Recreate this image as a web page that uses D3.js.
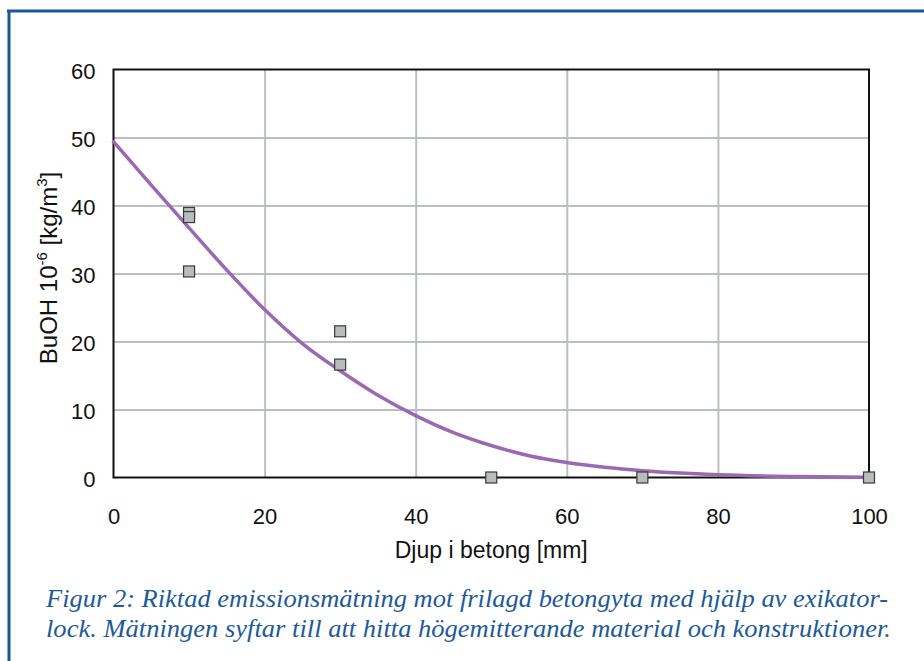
<!DOCTYPE html>
<html>
<head>
<meta charset="utf-8">
<script src="https://cdn.jsdelivr.net/npm/d3@7"></script>
<style>
  body { margin: 0; background: #fff; }
  .tick text { font-family: "Liberation Sans", Arial, sans-serif; font-size: 22px; fill: #111; }
  .grid line { stroke: #b9bfc3; stroke-width: 2px; }
  .grid .domain { display: none; }
</style>
</head>
<body>
<div id="chart"></div>
<script>
// measured samples
var depthX = [10, 10, 10, 30, 30, 50, 70, 100];
var buohY = [38.9, 38.3, 30.3, 21.5, 16.6, 0, 0, 0];

// fitted curve
var curveX = [0, 5, 10, 15, 20, 25, 30, 35, 40, 45, 50, 55, 60, 65, 70, 75, 80, 90, 100];
var curveY = [49.4, 43.0, 36.7, 30.5, 24.7, 19.7, 15.7, 12.1, 9.1, 6.6, 4.7, 3.2, 2.2, 1.5, 1.0, 0.65, 0.4, 0.15, 0.05];

var xTicks = [0, 20, 40, 60, 80, 100];
var yTicks = [0, 10, 20, 30, 40, 50, 60];

var captionLines = [
    "Figur 2: Riktad emissionsmätning mot frilagd betongyta med hjälp av exikator-",
    "lock. Mätningen syftar till att hitta högemitterande material och konstruktioner."
];

var W = 924, H = 661;
var plot = {left: 113.5, right: 869, top: 69.5, bottom: 477.5};

var svg = d3.select("#chart").append("svg")
    .attr("width", W)
    .attr("height", H);

// blue frame (top and left)
svg.append("line")
    .attr("x1", 7).attr("x2", W).attr("y1", 11).attr("y2", 11)
    .attr("stroke", "#1b5797").attr("stroke-width", 3);
svg.append("line")
    .attr("x1", 9).attr("x2", 9).attr("y1", 10).attr("y2", H)
    .attr("stroke", "#1b5797").attr("stroke-width", 3);

var x = d3.scaleLinear().domain([0, 100]).range([plot.left, plot.right]);
var y = d3.scaleLinear().domain([0, 60]).range([plot.bottom, plot.top]);

// gridlines
svg.append("g")
    .attr("class", "grid")
    .attr("transform", "translate(0," + plot.bottom + ")")
    .call(d3.axisBottom(x).tickValues([20, 40, 60, 80])
        .tickSize(-(plot.bottom - plot.top)).tickFormat(""));
svg.append("g")
    .attr("class", "grid")
    .attr("transform", "translate(" + plot.left + ",0)")
    .call(d3.axisLeft(y).tickValues([10, 20, 30, 40, 50])
        .tickSize(-(plot.right - plot.left)).tickFormat(""));

// plot frame
svg.append("rect")
    .attr("x", plot.left).attr("y", plot.top)
    .attr("width", plot.right - plot.left)
    .attr("height", plot.bottom - plot.top)
    .attr("fill", "none")
    .attr("stroke", "#111")
    .attr("stroke-width", 2);

// tick labels
var xa = svg.append("g")
    .attr("transform", "translate(0," + plot.bottom + ")")
    .call(d3.axisBottom(x).tickValues(xTicks).tickSize(0).tickPadding(31));
xa.select(".domain").remove();

var ya = svg.append("g")
    .attr("transform", "translate(" + plot.left + ",0)")
    .call(d3.axisLeft(y).tickValues(yTicks).tickSize(0).tickPadding(18));
ya.select(".domain").remove();
ya.selectAll(".tick text").attr("dy", "0.4em");

// curve
var curveData = curveX.map(function(d, i) { return {x: d, y: curveY[i]}; });
svg.append("path")
    .datum(curveData)
    .attr("fill", "none")
    .attr("stroke", "#9b68b2")
    .attr("stroke-width", 3.5)
    .attr("stroke-linecap", "round")
    .attr("d", d3.line()
        .curve(d3.curveMonotoneX)
        .x(function(d) { return x(d.x); })
        .y(function(d) { return y(d.y); }));

// markers
var pts = depthX.map(function(d, i) { return {x: d, y: buohY[i]}; });
var sz = 11;
svg.selectAll("rect.pt")
    .data(pts)
    .enter().append("rect")
    .attr("class", "pt")
    .attr("x", function(d) { return x(d.x) - sz / 2; })
    .attr("y", function(d) { return y(d.y) - sz / 2; })
    .attr("width", sz)
    .attr("height", sz)
    .attr("fill", "#b8bcbf")
    .attr("stroke", "#3a3a3a")
    .attr("stroke-width", 1.2);

// axis titles
svg.append("text")
    .attr("x", (plot.left + plot.right) / 2)
    .attr("y", 558)
    .attr("text-anchor", "middle")
    .style("font-family", "Liberation Sans, Arial, sans-serif")
    .style("font-size", "23px")
    .attr("fill", "#111")
    .text("Djup i betong [mm]");

var yt = svg.append("text")
    .attr("transform", "translate(57,268) rotate(-90)")
    .attr("text-anchor", "middle")
    .style("font-family", "Liberation Sans, Arial, sans-serif")
    .style("font-size", "24px")
    .attr("fill", "#111");
yt.append("tspan").text("BuOH 10");
yt.append("tspan").attr("dy", "-10").style("font-size", "15px").text("-6");
yt.append("tspan").attr("dy", "10").text(" [kg/m");
yt.append("tspan").attr("dy", "-10").style("font-size", "15px").text("3");
yt.append("tspan").attr("dy", "10").text("]");

// caption
svg.selectAll("text.cap")
    .data(captionLines)
    .enter().append("text")
    .attr("class", "cap")
    .attr("x", 46)
    .attr("y", function(d, i) { return 607 + i * 30; })
    .attr("textLength", function(d, i) { return i === 0 ? 842 : 845; })
    .attr("lengthAdjust", "spacingAndGlyphs")
    .style("font-family", "Liberation Serif, Times New Roman, serif")
    .style("font-style", "italic")
    .style("font-size", "25px")
    .attr("fill", "#1d5a98")
    .text(function(d) { return d; });
</script>
</body>
</html>
